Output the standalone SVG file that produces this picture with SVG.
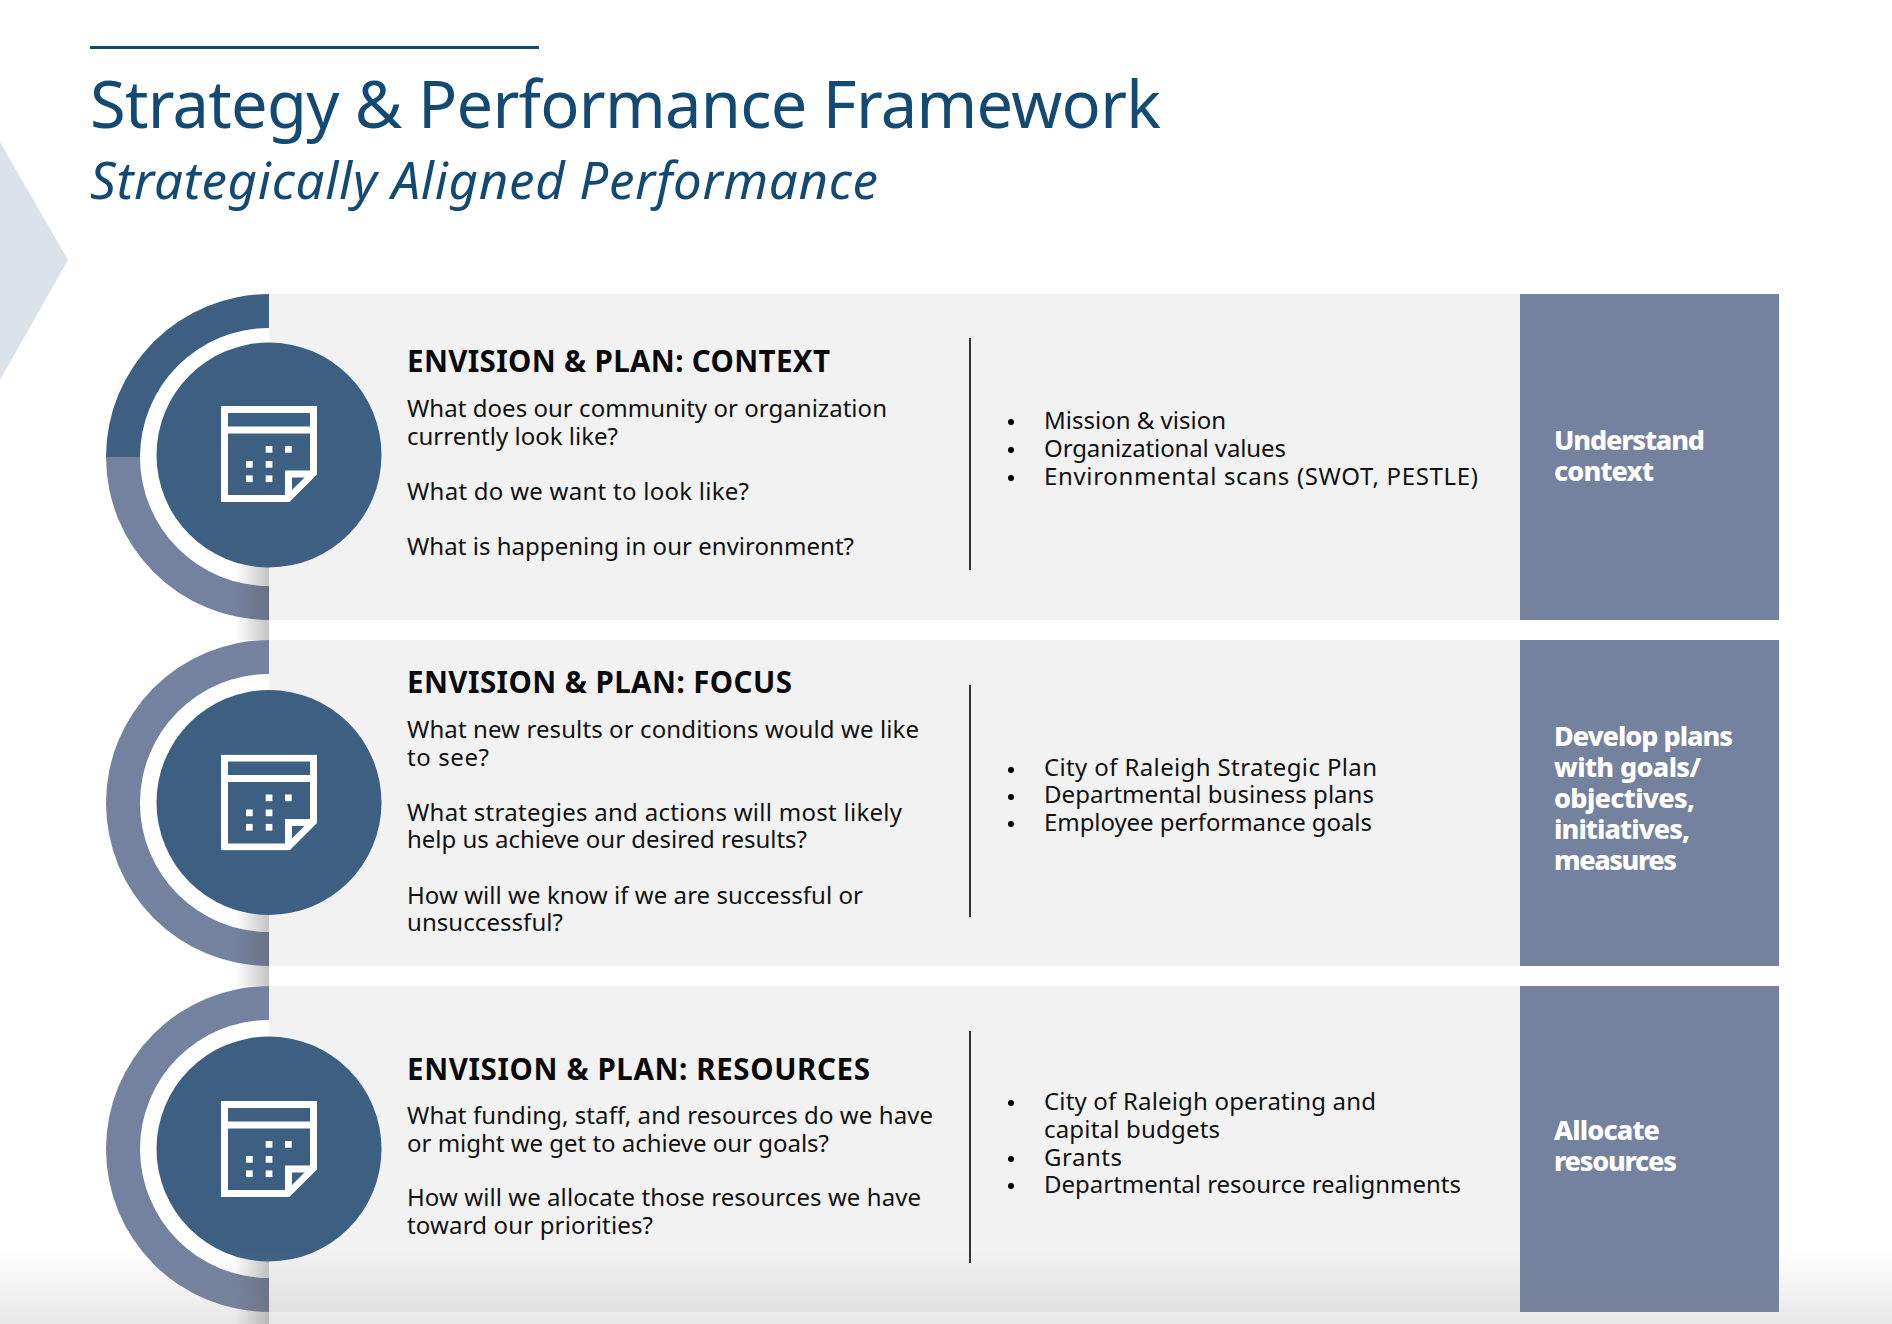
<svg xmlns="http://www.w3.org/2000/svg" width="1892" height="1324" viewBox="0 0 1892 1324">
<defs>
<style>
text{font-family:"Noto Sans","Lato",sans-serif;fill:#111}
.h{font-size:29.500px;font-weight:700;fill:#0a0a0a}
.b{font-size:24px}
.s{font-size:27px;font-weight:800;fill:#fff}
.t{font-size:65px;fill:#134a73}
.st{font-size:51px;font-style:italic;fill:#134a73}
.ic{fill:none;stroke:#fff;stroke-width:7}
.d{fill:#fff}
.r{fill:#f2f2f2}
.p{fill:#74829f}
.c{fill:#3d6082}
.v{fill:#333}
</style>
<linearGradient id="sh" x1="0" x2="1" y1="0" y2="0"><stop offset="0" stop-color="#555" stop-opacity="0"/><stop offset="1" stop-color="#555" stop-opacity=".35"/></linearGradient>
<linearGradient id="bot" x1="0" x2="0" y1="0" y2="1"><stop offset="0" stop-color="#888" stop-opacity="0"/><stop offset="1" stop-color="#888" stop-opacity=".2"/></linearGradient>
<clipPath id="page"><path d="M-48-48H48V20.500L20.500 48H-48Z"/></clipPath>
<g id="cal">
<g clip-path="url(#page)">
<path class="ic" d="M-44.500-44.500H44.500V19.500L19.500,44.500H-44.500Z"/>
<path class="ic" d="M-44.500-24H44.500"/>
<path class="ic" d="M44.500 20H19.500V44.500"/>
</g>
<rect class="d" x="-23" y="7" width="6.700" height="6.700"/><rect class="d" x="-3.300" y="7" width="6.700" height="6.700"/>
<rect class="d" x="-23" y="21.400" width="6.700" height="6.700"/><rect class="d" x="-3.300" y="21.400" width="6.700" height="6.700"/>
<rect class="d" x="-3.300" y="-8" width="6.700" height="6.700"/><rect class="d" x="16" y="-8" width="6.700" height="6.700"/>
</g>
</defs>
<rect width="1892" height="1324" fill="#fff"/>
<path fill="#dbe3ea" d="M0 142L68 260L0 380Z"/>
<rect x="90" y="46" width="449" height="3" fill="#134a73"/>
<text class="t" x="90" y="128" textLength="1071">Strategy &amp; Performance Framework</text>
<text class="st" x="90" y="199" textLength="788">Strategically Aligned Performance</text>

<g id="row1">
<rect class="r" x="269" y="294" width="1251" height="326"/>
<rect class="p" x="1520" y="294" width="259" height="326"/>
<path class="c" d="M269 294A163 163 0 0 0 106 457H140A129 129 0 0 1 269 328Z"/>
<path class="p" d="M269 620A163 163 0 0 1 106 457H140A129 129 0 0 0 269 586Z"/>
<rect x="235" y="555" width="34" height="85" fill="url(#sh)"/>
<circle class="c" cx="269" cy="455" r="112.500"/>
<use href="#cal" x="269" y="454"/>
<text class="h" x="407" y="372" textLength="423">ENVISION &amp; PLAN: CONTEXT</text>
<text class="b" x="407" y="417" textLength="480">What does our community or organization</text>
<text class="b" x="407" y="445" textLength="211">currently look like?</text>
<text class="b" x="407" y="500" textLength="342">What do we want to look like?</text>
<text class="b" x="407" y="555" textLength="447">What is happening in our environment?</text>
<rect class="v" x="969" y="338" width="2" height="232"/>
<text class="b" x="1044" y="429" textLength="182">Mission &amp; vision</text>
<text class="b" x="1044" y="457" textLength="242">Organizational values</text>
<text class="b" x="1044" y="485" textLength="434">Environmental scans (SWOT, PESTLE)</text>
<circle cx="1011" cy="422" r="3"/><circle cx="1011" cy="450" r="3"/><circle cx="1011" cy="478" r="3"/>
<text class="s" x="1554" y="450" textLength="151">Understand</text>
<text class="s" x="1554" y="481" textLength="100">context</text>
</g>

<g id="row2">
<rect class="r" x="269" y="640" width="1251" height="326"/>
<rect class="p" x="1520" y="640" width="259" height="326"/>
<path class="p" d="M269 640A163 163 0 0 0 269 966V932A129 129 0 0 1 269 674Z"/>
<rect x="235" y="901" width="34" height="85" fill="url(#sh)"/>
<circle class="c" cx="269" cy="802.500" r="112.500"/>
<use href="#cal" x="269" y="802.500"/>
<text class="h" x="407" y="693" textLength="385">ENVISION &amp; PLAN: FOCUS</text>
<text class="b" x="407" y="738" textLength="512">What new results or conditions would we like</text>
<text class="b" x="407" y="766" textLength="82">to see?</text>
<text class="b" x="407" y="821" textLength="495">What strategies and actions will most likely</text>
<text class="b" x="407" y="848" textLength="400">help us achieve our desired results?</text>
<text class="b" x="407" y="904" textLength="456">How will we know if we are successful or</text>
<text class="b" x="407" y="931" textLength="156">unsuccessful?</text>
<rect class="v" x="969" y="685" width="2" height="232"/>
<text class="b" x="1044" y="776" textLength="333">City of Raleigh Strategic Plan</text>
<text class="b" x="1044" y="803" textLength="330">Departmental business plans</text>
<text class="b" x="1044" y="831" textLength="328">Employee performance goals</text>
<circle cx="1011" cy="770" r="3"/><circle cx="1011" cy="797" r="3"/><circle cx="1011" cy="824" r="3"/>
<text class="s" x="1554" y="746" textLength="179">Develop plans</text>
<text class="s" x="1554" y="777" textLength="147">with goals/</text>
<text class="s" x="1554" y="808" textLength="141">objectives,</text>
<text class="s" x="1554" y="839" textLength="136">initiatives,</text>
<text class="s" x="1554" y="870" textLength="123">measures</text>
</g>

<g id="row3">
<rect class="r" x="269" y="986" width="1251" height="326"/>
<rect class="p" x="1520" y="986" width="259" height="326"/>
<path class="p" d="M269 986A163 163 0 0 0 269 1312V1278A129 129 0 0 1 269 1020Z"/>
<rect x="235" y="1247" width="34" height="77" fill="url(#sh)"/>
<circle class="c" cx="269" cy="1149" r="112.500"/>
<use href="#cal" x="269" y="1149"/>
<text class="h" x="407" y="1080" textLength="463">ENVISION &amp; PLAN: RESOURCES</text>
<text class="b" x="407" y="1124" textLength="526">What funding, staff, and resources do we have</text>
<text class="b" x="407" y="1152" textLength="422">or might we get to achieve our goals?</text>
<text class="b" x="407" y="1206" textLength="514">How will we allocate those resources we have</text>
<text class="b" x="407" y="1234" textLength="246">toward our priorities?</text>
<rect class="v" x="969" y="1031" width="2" height="232"/>
<text class="b" x="1044" y="1110" textLength="332">City of Raleigh operating and</text>
<text class="b" x="1044" y="1138" textLength="176">capital budgets</text>
<text class="b" x="1044" y="1166" textLength="78">Grants</text>
<text class="b" x="1044" y="1193" textLength="417">Departmental resource realignments</text>
<circle cx="1011" cy="1103" r="3"/><circle cx="1011" cy="1159" r="3"/><circle cx="1011" cy="1186" r="3"/>
<text class="s" x="1554" y="1140" textLength="106">Allocate</text>
<text class="s" x="1554" y="1171" textLength="123">resources</text>
</g>

<g id="shading">
<rect y="1250" width="1892" height="74" fill="url(#bot)"/>
</g>
</svg>
